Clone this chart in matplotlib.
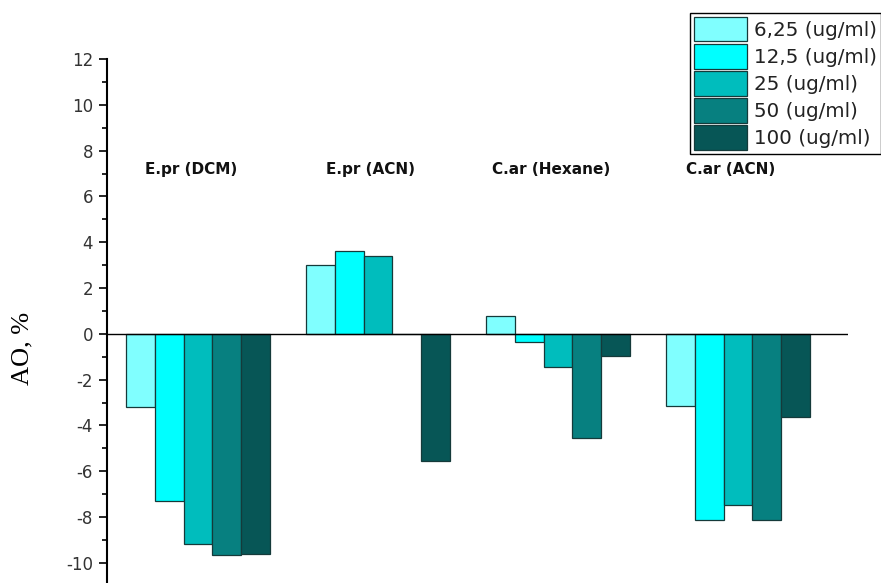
import numpy as np
import matplotlib.pyplot as plt
from matplotlib.ticker import MultipleLocator

plt.rcParams['axes.unicode_minus'] = False

groups = ['E.pr (DCM)', 'E.pr (ACN)', 'C.ar (Hexane)', 'C.ar (ACN)']
concentrations = ['6,25 (ug/ml)', '12,5 (ug/ml)', '25 (ug/ml)', '50 (ug/ml)', '100 (ug/ml)']

# AO, % per extract, one list per concentration
ao_6_25 = [-3.2, 3.0, 0.8, -3.15]
ao_12_5 = [-7.3, 3.62, -0.37, -8.12]
ao_25 = [-9.17, 3.39, -1.46, -7.48]
ao_50 = [-9.65, 0.0, -4.56, -8.12]
ao_100 = [-9.6, -5.55, -0.98, -3.64]

colors = ['#80ffff', '#00ffff', '#00bdbd', '#078080', '#075656']

series = [ao_6_25, ao_12_5, ao_25, ao_50, ao_100]

fig = plt.figure(figsize=(8.81, 5.83), dpi=100)
ax = fig.add_axes([107 / 881, 0, 741 / 881, 1 - 59 / 583])

x = np.arange(len(groups))
width = 0.16

for i, (vals, col, lab) in enumerate(zip(series, colors, concentrations)):
    ax.bar(x + (i - 2) * width, vals, width, color=col, edgecolor='#153a3a',
           linewidth=0.9, label=lab, zorder=2)

ax.axhline(0, color='black', linewidth=1.0, zorder=3)

# extract names above each cluster
for xi, name in zip(x, groups):
    ax.text(xi - 0.04, 7.16, name, ha='center', va='center',
            fontsize=11, fontweight='bold', color='#111111')

ax.set_xlim(-0.506, 3.611)
ax.set_ylim(-10.88, 12)
ax.set_xticks([])
ax.yaxis.set_major_locator(MultipleLocator(2))
ax.yaxis.set_minor_locator(MultipleLocator(1))
ax.tick_params(axis='y', which='major', length=6, width=1.2, labelsize=12,
               labelcolor='#333333', pad=4)
ax.tick_params(axis='y', which='minor', length=3.5, width=1.2)

for s in ['top', 'right', 'bottom']:
    ax.spines[s].set_visible(False)
ax.spines['left'].set_linewidth(1.5)

fig.text(22 / 881, 1 - 348 / 583, 'AO, %', rotation=90, ha='center', va='center',
         fontsize=19, family='Liberation Serif')

leg = fig.legend(loc='upper right', bbox_to_anchor=(1.0, 1 - 13 / 583),
                 borderaxespad=0, fontsize=14.3, handlelength=2.68, handleheight=1.52,
                 labelspacing=0.13, handletextpad=0.36, borderpad=0.2,
                 fancybox=False, framealpha=1, edgecolor='black')
leg.get_frame().set_linewidth(1.0)
for t in leg.get_texts():
    t.set_color('#222222')

fig.savefig('out.png', dpi=100)
